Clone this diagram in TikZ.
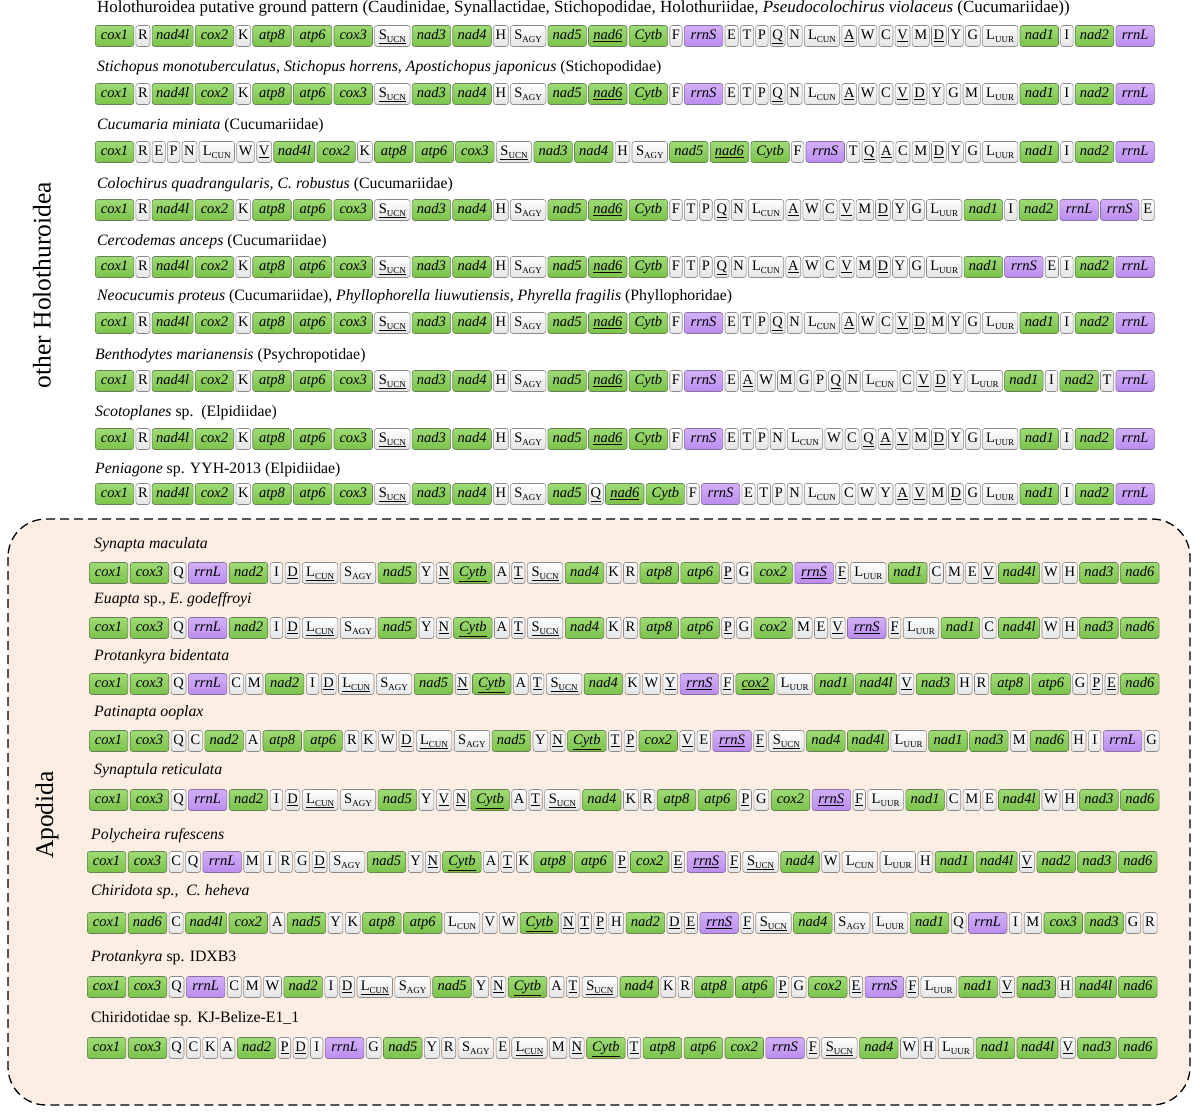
\documentclass[tikz,border=0pt]{standalone}
\usepackage{fontspec}
\setmainfont{Liberation Serif}
\definecolor{gtop}{HTML}{9FDB76}
\definecolor{gbot}{HTML}{7BC24A}
\definecolor{gdraw}{HTML}{667F55}
\definecolor{ptop}{HTML}{D3B0F8}
\definecolor{pbot}{HTML}{BA8CEE}
\definecolor{pdraw}{HTML}{86709F}
\definecolor{wbot}{HTML}{E4E4E4}
\definecolor{wdraw}{HTML}{8A8A8A}
\definecolor{peach}{HTML}{FDEEE4}
\newcommand{\sbs}[1]{\raisebox{-0.35ex}{\fontsize{9}{9}\selectfont #1}}
\newcommand{\Sucn}{S\sbs{UCN}}
\newcommand{\Sagy}{S\sbs{AGY}}
\newcommand{\Lcun}{L\sbs{CUN}}
\newcommand{\Luur}{L\sbs{UUR}}
\newcommand{\myul}[1]{\underline{#1}}
\tikzset{
  boxbase/.style={draw, rounded corners=2.5pt, minimum height=21pt, text height=10.5pt, text depth=3pt,
    inner ysep=0pt, line width=0.6pt, font=\fontsize{14.5}{16}\selectfont},
  boxg/.style={boxbase, draw=gdraw, top color=gtop, bottom color=gbot, minimum width=38.5pt, inner xsep=4pt,
    font=\fontsize{14.5}{16}\selectfont\itshape},
  boxr/.style={boxbase, draw=pdraw, top color=ptop, bottom color=pbot, minimum width=38.5pt, inner xsep=4pt,
    font=\fontsize{14.5}{16}\selectfont\itshape},
  boxt/.style={boxbase, draw=wdraw, top color=white, bottom color=wbot, minimum width=12.5pt, inner xsep=2.2pt},
  boxs/.style={boxbase, draw=wdraw, top color=white, bottom color=wbot, minimum width=35.5pt, inner xsep=2.5pt},
  kind/.code={\edef\kindtmp{box#1}\expandafter\pgfkeysalso\expandafter{\kindtmp}},
  ttl/.style={anchor=west, inner sep=0pt, font=\fontsize{15.8}{18}\selectfont},
  grouplabel/.style={rotate=90, inner sep=0pt, font=\fontsize{25.5}{28}\selectfont}
}
\newcommand{\generow}[5]{%
  \foreach \ty/\tx [count=\i, remember=\i as \lasti (initially 0)] in {#5}{%
    \ifnum\i=1
      \node[kind=\ty, anchor=west] (#1-\i) at (#2,#3) {\tx};
    \else
      \node[kind=\ty, anchor=west] (#1-\i) at ([xshift=#4]#1-\lasti.east) {\tx};
    \fi
  }%
}
\begin{document}
\begin{tikzpicture}[x=1pt,y=-1pt]
\useasboundingbox (0,0) rectangle (1200,1116);
\fill[white] (0,0) rectangle (1200,1116);
% Apodida frame
\draw[fill=peach, dash pattern=on 9pt off 5pt, line width=1.3pt, rounded corners=38pt] (8,519) rectangle (1190,1105);
\node[grouplabel] (lab1) at (42,285) {other Holothuroidea};
\node[grouplabel] (lab2) at (47,815) {Apodida};
% titles
\node[ttl, font=\fontsize{17}{18}\selectfont] (t1) at (97,8) {Holothuroidea putative ground pattern (Caudinidae, Synallactidae, Stichopodidae, Holothuriidae, \textit{Pseudocolochirus violaceus} (Cucumariidae))};
\node[ttl] (t2) at (97,68) {\textit{Stichopus monotuberculatus}, \textit{Stichopus horrens}, \textit{Apostichopus japonicus} (Stichopodidae)};
\node[ttl] (t3) at (97,126) {\textit{Cucumaria miniata} (Cucumariidae)};
\node[ttl] (t4) at (97,185) {\textit{Colochirus quadrangularis, C. robustus} (Cucumariidae)};
\node[ttl] (t5) at (97,242) {\textit{Cercodemas anceps} (Cucumariidae)};
\node[ttl] (t6) at (97,297) {\textit{Neocucumis proteus} (Cucumariidae), \textit{Phyllophorella liuwutiensis, Phyrella fragilis} (Phyllophoridae)};
\node[ttl] (t7) at (95,356) {\textit{Benthodytes marianensis} (Psychropotidae)};
\node[ttl] (t8) at (95,413) {\textit{Scotoplanes} sp.\ \ (Elpidiidae)};
\node[ttl] (t9) at (95,470) {\textit{Peniagone} sp. YYH-2013 (Elpidiidae)};
\node[ttl] (t10) at (94,545) {\textit{Synapta maculata}};
\node[ttl] (t11) at (94,600) {\textit{Euapta} sp., \textit{E. godeffroyi}};
\node[ttl] (t12) at (94,657) {\textit{Protankyra bidentata}};
\node[ttl] (t13) at (94,713) {\textit{Patinapta ooplax}};
\node[ttl] (t14) at (94,771) {\textit{Synaptula reticulata}};
\node[ttl] (t15) at (91,836) {\textit{Polycheira rufescens}};
\node[ttl] (t16) at (91,892) {\textit{Chiridota sp.,\ \ C. heheva}};
\node[ttl] (t17) at (91,958) {\textit{Protankyra} sp. IDXB3};
\node[ttl] (t18) at (91,1019) {Chiridotidae sp. KJ-Belize-E1\_1};
% rows
\generow{ra}{95}{36}{1.5pt}{g/cox1, t/R, g/nad4l, g/cox2, t/K, g/atp8, g/atp6, g/cox3, s/\myul{\Sucn}, g/nad3, g/nad4, t/H, s/\Sagy, g/nad5, g/\myul{nad6}, g/Cytb, t/F, r/rrnS, t/E, t/T, t/P, t/\myul{Q}, t/N, s/\Lcun, t/\myul{A}, t/W, t/C, t/\myul{V}, t/M, t/\myul{D}, t/Y, t/G, s/\Luur, g/nad1, t/I, g/nad2, r/rrnL}
\generow{rb}{95}{94}{1.5pt}{g/cox1, t/R, g/nad4l, g/cox2, t/K, g/atp8, g/atp6, g/cox3, s/\myul{\Sucn}, g/nad3, g/nad4, t/H, s/\Sagy, g/nad5, g/\myul{nad6}, g/Cytb, t/F, r/rrnS, t/E, t/T, t/P, t/\myul{Q}, t/N, s/\Lcun, t/\myul{A}, t/W, t/C, t/\myul{V}, t/\myul{D}, t/Y, t/G, t/M, s/\Luur, g/nad1, t/I, g/nad2, r/rrnL}
\generow{rc}{95}{152}{1.5pt}{g/cox1, t/R, t/E, t/P, t/N, s/\Lcun, t/W, t/\myul{V}, g/nad4l, g/cox2, t/K, g/atp8, g/atp6, g/cox3, s/\myul{\Sucn}, g/nad3, g/nad4, t/H, s/\Sagy, g/nad5, g/\myul{nad6}, g/Cytb, t/F, r/rrnS, t/T, t/\myul{Q}, t/\myul{A}, t/C, t/M, t/\myul{D}, t/Y, t/G, s/\Luur, g/nad1, t/I, g/nad2, r/rrnL}
\generow{rd}{95}{210}{1.5pt}{g/cox1, t/R, g/nad4l, g/cox2, t/K, g/atp8, g/atp6, g/cox3, s/\myul{\Sucn}, g/nad3, g/nad4, t/H, s/\Sagy, g/nad5, g/\myul{nad6}, g/Cytb, t/F, t/T, t/P, t/\myul{Q}, t/N, s/\Lcun, t/\myul{A}, t/W, t/C, t/\myul{V}, t/M, t/\myul{D}, t/Y, t/G, s/\Luur, g/nad1, t/I, g/nad2, r/rrnL, r/rrnS, t/E}
\generow{re}{95}{267}{1.5pt}{g/cox1, t/R, g/nad4l, g/cox2, t/K, g/atp8, g/atp6, g/cox3, s/\myul{\Sucn}, g/nad3, g/nad4, t/H, s/\Sagy, g/nad5, g/\myul{nad6}, g/Cytb, t/F, t/T, t/P, t/\myul{Q}, t/N, s/\Lcun, t/\myul{A}, t/W, t/C, t/\myul{V}, t/M, t/\myul{D}, t/Y, t/G, s/\Luur, g/nad1, r/rrnS, t/E, t/I, g/nad2, r/rrnL}
\generow{rf}{95}{323}{1.5pt}{g/cox1, t/R, g/nad4l, g/cox2, t/K, g/atp8, g/atp6, g/cox3, s/\myul{\Sucn}, g/nad3, g/nad4, t/H, s/\Sagy, g/nad5, g/\myul{nad6}, g/Cytb, t/F, r/rrnS, t/E, t/T, t/P, t/\myul{Q}, t/N, s/\Lcun, t/\myul{A}, t/W, t/C, t/\myul{V}, t/\myul{D}, t/M, t/Y, t/G, s/\Luur, g/nad1, t/I, g/nad2, r/rrnL}
\generow{rg}{95}{381}{1.5pt}{g/cox1, t/R, g/nad4l, g/cox2, t/K, g/atp8, g/atp6, g/cox3, s/\myul{\Sucn}, g/nad3, g/nad4, t/H, s/\Sagy, g/nad5, g/\myul{nad6}, g/Cytb, t/F, r/rrnS, t/E, t/\myul{A}, t/W, t/M, t/G, t/P, t/\myul{Q}, t/N, s/\Lcun, t/C, t/\myul{V}, t/\myul{D}, t/Y, s/\Luur, g/nad1, t/I, g/nad2, t/T, r/rrnL}
\generow{rh}{95}{439}{1.5pt}{g/cox1, t/R, g/nad4l, g/cox2, t/K, g/atp8, g/atp6, g/cox3, s/\myul{\Sucn}, g/nad3, g/nad4, t/H, s/\Sagy, g/nad5, g/\myul{nad6}, g/Cytb, t/F, r/rrnS, t/E, t/T, t/P, t/N, s/\Lcun, t/W, t/C, t/\myul{Q}, t/\myul{A}, t/\myul{V}, t/M, t/\myul{D}, t/Y, t/G, s/\Luur, g/nad1, t/I, g/nad2, r/rrnL}
\generow{ri}{95}{494}{1.5pt}{g/cox1, t/R, g/nad4l, g/cox2, t/K, g/atp8, g/atp6, g/cox3, s/\myul{\Sucn}, g/nad3, g/nad4, t/H, s/\Sagy, g/nad5, t/\myul{Q}, g/\myul{nad6}, g/Cytb, t/F, r/rrnS, t/E, t/T, t/P, t/N, s/\Lcun, t/C, t/W, t/Y, t/\myul{A}, t/\myul{V}, t/M, t/\myul{D}, t/G, s/\Luur, g/nad1, t/I, g/nad2, r/rrnL}
\generow{rj}{89}{573}{1.8pt}{g/cox1, g/cox3, t/Q, r/rrnL, g/nad2, t/I, t/\myul{D}, s/\myul{\Lcun}, s/\Sagy, g/nad5, t/Y, t/\myul{N}, g/\myul{Cytb}, t/A, t/\myul{T}, s/\myul{\Sucn}, g/nad4, t/K, t/R, g/atp8, g/atp6, t/\myul{P}, t/G, g/cox2, r/\myul{rrnS}, t/\myul{F}, s/\Luur, g/nad1, t/C, t/M, t/E, t/\myul{V}, g/nad4l, t/W, t/H, g/nad3, g/nad6}
\generow{rk}{89}{628}{1.8pt}{g/cox1, g/cox3, t/Q, r/rrnL, g/nad2, t/I, t/\myul{D}, s/\myul{\Lcun}, s/\Sagy, g/nad5, t/Y, t/\myul{N}, g/\myul{Cytb}, t/A, t/\myul{T}, s/\myul{\Sucn}, g/nad4, t/K, t/R, g/atp8, g/atp6, t/\myul{P}, t/G, g/cox2, t/M, t/E, t/\myul{V}, r/\myul{rrnS}, t/\myul{F}, s/\Luur, g/nad1, t/C, g/nad4l, t/W, t/H, g/nad3, g/nad6}
\generow{rl}{89}{684}{1.8pt}{g/cox1, g/cox3, t/Q, r/rrnL, t/C, t/M, g/nad2, t/I, t/\myul{D}, s/\myul{\Lcun}, s/\Sagy, g/nad5, t/\myul{N}, g/\myul{Cytb}, t/A, t/\myul{T}, s/\myul{\Sucn}, g/nad4, t/K, t/W, t/\myul{Y}, r/\myul{rrnS}, t/\myul{F}, g/\myul{cox2}, s/\Luur, g/nad1, g/nad4l, t/\myul{V}, g/nad3, t/H, t/R, g/atp8, g/atp6, t/G, t/\myul{P}, t/\myul{E}, g/nad6}
\generow{rm}{89}{741}{1.8pt}{g/cox1, g/cox3, t/Q, t/C, g/nad2, t/A, g/atp8, g/atp6, t/R, t/K, t/W, t/\myul{D}, s/\myul{\Lcun}, s/\Sagy, g/nad5, t/Y, t/\myul{N}, g/\myul{Cytb}, t/\myul{T}, t/\myul{P}, g/cox2, t/\myul{V}, t/E, r/\myul{rrnS}, t/\myul{F}, s/\myul{\Sucn}, g/nad4, g/nad4l, s/\Luur, g/nad1, g/nad3, t/M, g/nad6, t/H, t/I, r/rrnL, t/G}
\generow{rn}{89}{800}{1.8pt}{g/cox1, g/cox3, t/Q, r/rrnL, g/nad2, t/I, t/\myul{D}, s/\myul{\Lcun}, s/\Sagy, g/nad5, t/Y, t/\myul{V}, t/\myul{N}, g/\myul{Cytb}, t/A, t/\myul{T}, s/\myul{\Sucn}, g/nad4, t/K, t/R, g/atp8, g/atp6, t/\myul{P}, t/G, g/cox2, r/\myul{rrnS}, t/\myul{F}, s/\Luur, g/nad1, t/C, t/M, t/E, g/nad4l, t/W, t/H, g/nad3, g/nad6}
\generow{ro}{87}{862}{1.8pt}{g/cox1, g/cox3, t/C, t/Q, r/rrnL, t/M, t/I, t/R, t/G, t/\myul{D}, s/\Sagy, g/nad5, t/Y, t/\myul{N}, g/\myul{Cytb}, t/A, t/\myul{T}, t/K, g/atp8, g/atp6, t/\myul{P}, g/cox2, t/\myul{E}, r/\myul{rrnS}, t/\myul{F}, s/\myul{\Sucn}, g/nad4, t/W, s/\Lcun, s/\Luur, t/H, g/nad1, g/nad4l, t/\myul{V}, g/nad2, g/nad3, g/nad6}
\generow{rp}{87}{923}{1.8pt}{g/cox1, g/nad6, t/C, g/nad4l, g/cox2, t/A, g/nad5, t/Y, t/K, g/atp8, g/atp6, s/\Lcun, t/V, t/W, g/\myul{Cytb}, t/\myul{N}, t/\myul{T}, t/\myul{P}, t/H, g/nad2, t/\myul{D}, t/\myul{E}, r/\myul{rrnS}, t/\myul{F}, s/\myul{\Sucn}, g/nad4, s/\Sagy, s/\Luur, g/nad1, t/Q, r/rrnL, t/I, t/M, g/cox3, g/nad3, t/G, t/R}
\generow{rq}{87}{987}{1.8pt}{g/cox1, g/cox3, t/Q, r/rrnL, t/C, t/M, t/W, g/nad2, t/I, t/\myul{D}, s/\myul{\Lcun}, s/\Sagy, g/nad5, t/Y, t/\myul{N}, g/\myul{Cytb}, t/A, t/\myul{T}, s/\myul{\Sucn}, g/nad4, t/K, t/R, g/atp8, g/atp6, t/\myul{P}, t/G, g/cox2, t/\myul{E}, r/rrnS, t/\myul{F}, s/\Luur, g/nad1, t/\myul{V}, g/nad3, t/H, g/nad4l, g/nad6}
\generow{rr}{87}{1048}{1.8pt}{g/cox1, g/cox3, t/Q, t/C, t/K, t/A, g/nad2, t/\myul{P}, t/\myul{D}, t/I, r/rrnL, t/G, g/nad5, t/Y, t/R, s/\Sagy, t/E, s/\myul{\Lcun}, t/M, t/\myul{N}, g/\myul{Cytb}, t/\myul{T}, g/atp8, g/atp6, g/cox2, r/rrnS, t/\myul{F}, s/\myul{\Sucn}, g/nad4, t/W, t/H, s/\Luur, g/nad1, g/nad4l, t/\myul{V}, g/nad3, g/nad6}
\end{tikzpicture}
\end{document}
